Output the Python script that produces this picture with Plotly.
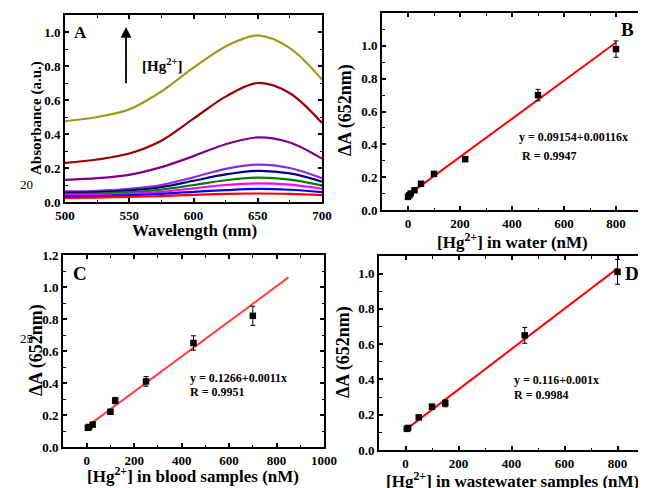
import plotly.graph_objects as go

W, H = 646, 488
OFF = 8  # page body margin of the browser

# ---------------- Panel A data ----------------
wavelength = [500, 525, 550, 575, 600, 625, 650, 675, 700]
spectra = {
    "olive":   [0.475, 0.50, 0.545, 0.65, 0.79, 0.915, 0.98, 0.905, 0.72],
    "darkred": [0.23, 0.25, 0.285, 0.36, 0.49, 0.62, 0.70, 0.64, 0.465],
    "purple":  [0.13, 0.14, 0.16, 0.205, 0.27, 0.34, 0.38, 0.35, 0.255],
    "violet":  [0.062, 0.066, 0.078, 0.10, 0.145, 0.195, 0.22, 0.20, 0.14],
    "navy":    [0.055, 0.058, 0.068, 0.088, 0.125, 0.162, 0.183, 0.168, 0.12],
    "green":   [0.048, 0.05, 0.058, 0.073, 0.10, 0.128, 0.143, 0.132, 0.098],
    "magenta": [0.04, 0.042, 0.048, 0.06, 0.08, 0.10, 0.11, 0.102, 0.078],
    "blue":    [0.033, 0.035, 0.04, 0.048, 0.06, 0.07, 0.077, 0.072, 0.058],
    "red":     [0.024, 0.026, 0.03, 0.035, 0.042, 0.048, 0.05, 0.048, 0.04],
}
spectra_colors = {
    "olive": "#9c9c1c", "darkred": "#990000", "purple": "#800080",
    "violet": "#8a2be2", "navy": "#000080", "green": "#008000",
    "magenta": "#ff00ff", "blue": "#0000ff", "red": "#ff0000",
}

# ---------------- Panel B data (water) ----------------
b_x = [0, 5, 10, 25, 50, 100, 220, 500, 800]
b_y = [0.08, 0.09, 0.10, 0.12, 0.16, 0.22, 0.31, 0.70, 0.98]
b_err = [0.01, 0.01, 0.01, 0.01, 0.01, 0.01, 0.015, 0.035, 0.05]
b_fit_x = [5, 800]
b_fit_y = [0.097, 1.02]

# ---------------- Panel C data (blood) ----------------
c_x = [5, 10, 25, 100, 120, 250, 450, 700]
c_y = [0.12, 0.125, 0.14, 0.22, 0.29, 0.41, 0.65, 0.82]
c_err = [0.01, 0.01, 0.01, 0.015, 0.02, 0.03, 0.045, 0.06]
c_fit_x = [15, 850]
c_fit_y = [0.143, 1.06]

# ---------------- Panel D data (wastewater) ----------------
d_x = [5, 10, 50, 100, 150, 450, 800]
d_y = [0.12, 0.125, 0.185, 0.245, 0.265, 0.65, 1.01]
d_err = [0.01, 0.01, 0.01, 0.015, 0.02, 0.045, 0.07]
d_fit_x = [5, 800]
d_fit_y = [0.12, 1.03]

FONT = "Liberation Serif, Times New Roman, serif"

fig = go.Figure()

def px_x(p):
    return (p - OFF) / W

def px_y(p):
    return 1 - (p - OFF) / H

for name, vals in spectra.items():
    fig.add_trace(go.Scatter(x=wavelength, y=vals, mode="lines",
                             line=dict(color=spectra_colors[name], width=2.2, shape="spline", smoothing=0.9),
                             xaxis="x", yaxis="y", showlegend=False))

def add_panel(xs, ys, errs, fx, fy, xa, ya, fitcolor):
    fig.add_trace(go.Scatter(x=fx, y=fy, mode="lines", line=dict(color=fitcolor, width=2),
                             xaxis=xa, yaxis=ya, showlegend=False))
    fig.add_trace(go.Scatter(x=xs, y=ys, mode="markers",
                             marker=dict(symbol="square", size=6.5, color="black"),
                             error_y=dict(type="data", array=errs, color="black", thickness=1, width=2.5),
                             xaxis=xa, yaxis=ya, showlegend=False))

add_panel(b_x, b_y, b_err, b_fit_x, b_fit_y, "x2", "y2", "#ff0000")
add_panel(c_x, c_y, c_err, c_fit_x, c_fit_y, "x3", "y3", "#ff4040")
add_panel(d_x, d_y, d_err, d_fit_x, d_fit_y, "x4", "y4", "#ff0000")

tickfont = dict(family=FONT, size=13, color="black", weight="bold")

def axis(domain, rng, dtick, minor_dtick, tick0=0, anchor=None, fmt=None):
    d = dict(domain=domain, range=rng, dtick=dtick, tick0=tick0, automargin=False,
             showgrid=False, zeroline=False, showline=True, linecolor="black",
             linewidth=2, mirror="ticks", ticks="inside", ticklen=4, tickwidth=1.5,
             tickcolor="black", tickfont=tickfont, anchor=anchor,
             tickprefix="<b>", ticksuffix="</b>",
             minor=dict(ticks="inside", ticklen=2.5, tickwidth=1, tickcolor="black", dtick=minor_dtick, showgrid=False))
    if fmt:
        d["tickformat"] = fmt
    return d

fig.update_layout(
    width=W, height=H, margin=dict(l=0, r=0, t=0, b=0, autoexpand=False),
    paper_bgcolor="white", plot_bgcolor="white",
    xaxis=axis([px_x(65), px_x(322)], [500, 700], 50, 25, tick0=500, anchor="y"),
    yaxis=axis([px_y(202), px_y(15)], [0, 1.1], 0.2, 0.1, anchor="x", fmt=".1f"),
    xaxis2=axis([px_x(382), px_x(642)], [-100, 900], 200, 100, anchor="y2"),
    yaxis2=axis([px_y(210), px_y(13)], [0, 1.2], 0.2, 0.1, anchor="x2", fmt=".1f"),
    xaxis3=axis([px_x(63), px_x(324)], [-100, 1000], 200, 100, anchor="y3"),
    yaxis3=axis([px_y(447), px_y(255)], [0, 1.2], 0.2, 0.1, anchor="x3", fmt=".1f"),
    xaxis4=axis([px_x(379), px_x(644)], [-100, 900], 200, 100, anchor="y4"),
    yaxis4=axis([px_y(450), px_y(256)], [0, 1.1], 0.2, 0.1, anchor="x4", fmt=".1f"),
)

ann = []
def text(x, y, s, size=16, angle=0, bold=True, xanchor="center", color="black"):
    ann.append(dict(x=px_x(x), y=px_y(y), xref="paper", yref="paper", text=s, showarrow=False,
                    textangle=angle, xanchor=xanchor, yanchor="middle",
                    font=dict(family=FONT, size=size, color=color, weight="bold" if bold else "normal")))

text(194, 230, "Wavelength (nm)", size=17)
text(37, 118, "Absorbance (a.u.)", size=15, angle=-90)
text(512, 241, "[Hg<sup>2+</sup>] in water (nM)", size=17)
text(345, 110, "ΔA (652nm)", size=18, angle=-90)
text(193, 475, "[Hg<sup>2+</sup>] in blood samples (nM)", size=17)
text(36, 350, "ΔA (652nm)", size=18, angle=-90)
text(512, 480, "[Hg<sup>2+</sup>] in wastewater samples (nM)", size=17)
text(343, 352, "ΔA (652nm)", size=18, angle=-90)

text(80, 32, "A", size=17)
text(627, 30, "B", size=19)
text(80, 273, "C", size=19)
text(632, 273, "D", size=19)

text(517, 137, "y = 0.09154+0.00116x", size=12, xanchor="left")
text(520, 156, "R = 0.9947", size=12, xanchor="left")
text(188, 378, "y = 0.1266+0.0011x", size=12, xanchor="left")
text(188, 392, "R = 0.9951", size=12, xanchor="left")
text(512, 380, "y = 0.116+0.001x", size=12, xanchor="left")
text(512, 395, "R = 0.9984", size=12, xanchor="left")

text(140, 65, "[Hg<sup>2+</sup>]", size=15, xanchor="left")
ann.append(dict(x=547.5, y=1.03, ax=547.5, ay=0.69, xref="x", yref="y", axref="x", ayref="y",
                showarrow=True, arrowhead=2, arrowsize=1.2, arrowwidth=1.8, arrowcolor="black", text=""))

text(26, 185, "20", size=13, bold=False)
text(26, 338, "25", size=13, bold=False)
text(18, 492, "30", size=13, bold=False)

fig.update_layout(annotations=ann)
fig.write_html("out.html")
